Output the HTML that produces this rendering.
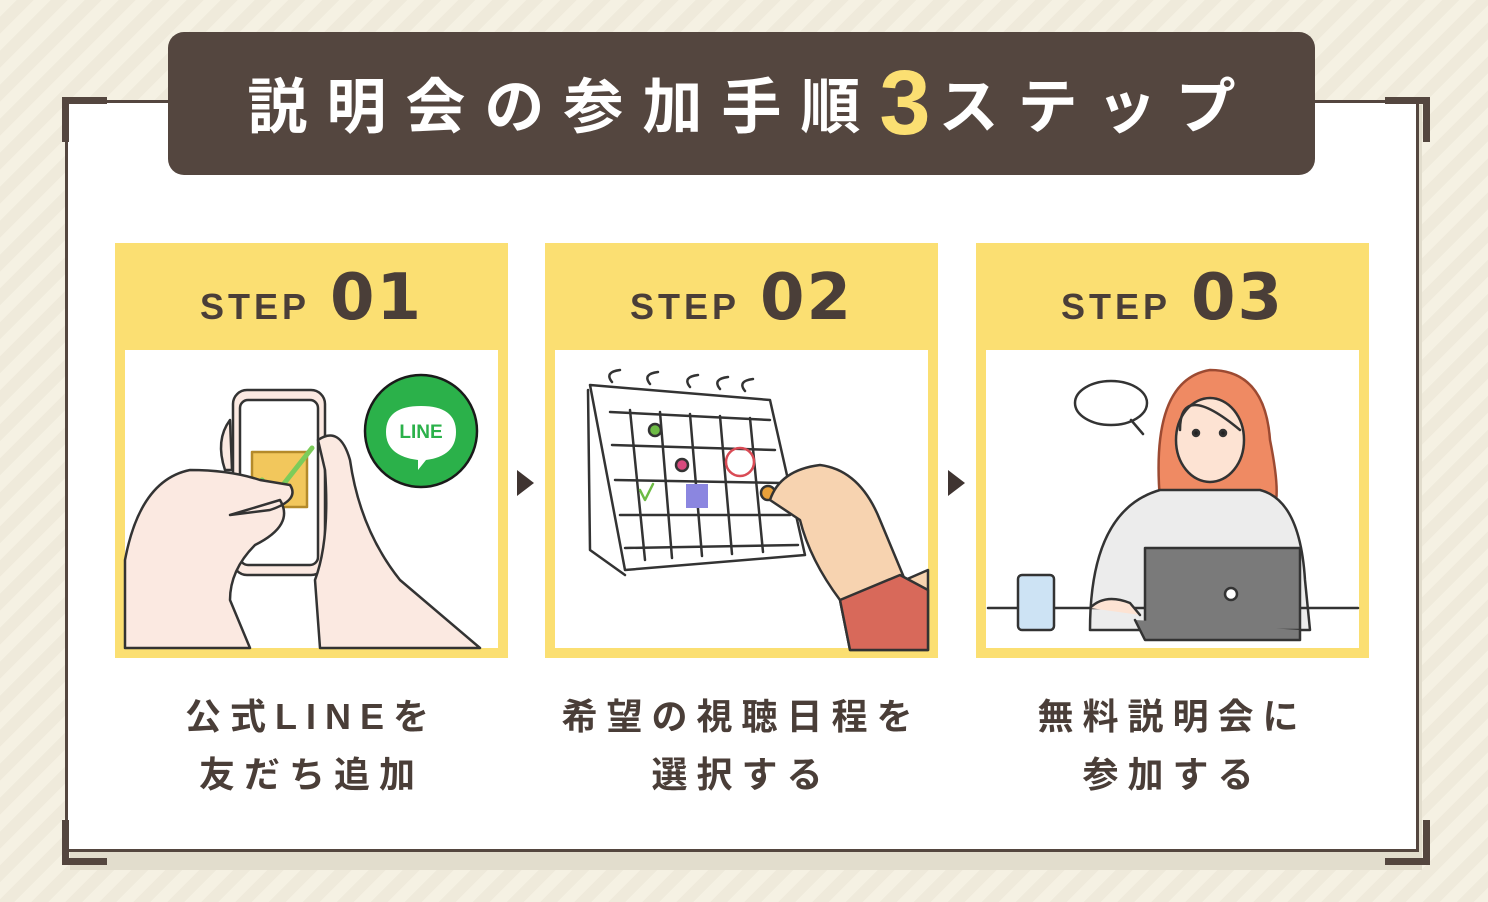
<!DOCTYPE html>
<html><head><meta charset="utf-8"><style>
html,body{margin:0;padding:0;}
body{width:1488px;height:902px;position:relative;overflow:hidden;
background:repeating-linear-gradient(135deg,#f5f1e3 0 12px,#efeadb 12px 24px);
font-family:"Liberation Sans","Noto Sans CJK JP",sans-serif;}
.abs{position:absolute;}
.shadow{left:70px;top:105px;width:1352px;height:765px;background:#e2ddcd;}
.frame{left:65px;top:100px;width:1354px;height:752px;background:#fff;border:3px solid #54463f;box-sizing:border-box;}
.c{position:absolute;width:38px;height:38px;border-color:#54463f;border-style:solid;border-width:0;}
.title{left:168px;top:32px;width:1147px;height:143px;background:#54463f;border-radius:16px;color:#fff;
font-weight:bold;font-size:60px;letter-spacing:19px;text-align:center;line-height:143px;white-space:nowrap;text-indent:19px;}
.title b{color:#fbdf72;font-size:92px;letter-spacing:8px;vertical-align:-6px;}
.card{width:393px;height:415px;top:243px;background:#fbdf72;box-sizing:border-box;}
.card .h{height:107px;text-align:center;color:#4a3e38;font-weight:bold;line-height:110px;white-space:nowrap;}
.card .h span{font-size:36px;letter-spacing:4px;}
.card .h b{font-size:64px;font-family:"DejaVu Sans","Liberation Sans",sans-serif;font-weight:900;margin-left:20px;letter-spacing:2px;}
.card .in{position:absolute;left:10px;top:107px;right:10px;bottom:10px;background:#fff;}
.cap{top:688px;width:393px;text-align:center;color:#4a3e38;font-weight:bold;font-size:36px;letter-spacing:9px;line-height:58px;}
.arr{width:0;height:0;border-left:17px solid #3f3431;border-top:13px solid transparent;border-bottom:13px solid transparent;top:470px;}
</style></head><body>
<div class="abs shadow"></div>
<div class="abs frame"></div>
<div class="c" style="left:62px;top:97px;border-left-width:7px;border-top-width:7px"></div>
<div class="c" style="left:1385px;top:97px;border-right-width:7px;border-top-width:7px"></div>
<div class="c" style="left:62px;top:820px;border-left-width:7px;border-bottom-width:7px"></div>
<div class="c" style="left:1385px;top:820px;border-right-width:7px;border-bottom-width:7px"></div>
<div class="abs title">説明会の参加手順<b>3</b>ステップ</div>

<div class="abs card" style="left:115px"><div class="h"><span>STEP</span><b>01</b></div><div class="in"></div></div>
<div class="abs card" style="left:545px"><div class="h"><span>STEP</span><b>02</b></div><div class="in"></div></div>
<div class="abs card" style="left:976px"><div class="h"><span>STEP</span><b>03</b></div><div class="in"></div></div>
<div class="abs arr" style="left:517px"></div>
<div class="abs arr" style="left:948px"></div>

<svg class="abs" style="left:0;top:0" width="1488" height="902" fill="none" stroke="#333" stroke-width="2.5" stroke-linejoin="round" stroke-linecap="round">
<!-- step1 -->
<path d="M230 420 Q215 440 225 470 L232 470 Z" fill="#fbe9e1"/>
<rect x="233" y="390" width="92" height="185" rx="14" fill="#fbe9e1"/>
<rect x="240" y="400" width="78" height="165" rx="8" fill="#fff"/>
<rect x="252" y="452" width="55" height="55" fill="#f2c75c" stroke="#b48a2a"/>
<path d="M262 480 L275 495 L312 448" stroke="#7ccc5a" stroke-width="5"/>
<path d="M318 440 Q340 425 350 460 Q360 530 400 580 L480 648 L320 648 L315 580 Q330 540 325 470 Z" fill="#fbe9e1"/>
<path d="M125 560 Q140 480 190 470 Q230 470 260 480 L290 485 Q300 500 270 510 L230 515 L280 500 Q295 525 255 545 Q230 570 230 600 L250 648 L125 648 Z" fill="#fbe9e1"/>
<circle cx="421" cy="431" r="56" fill="#2bb14a" stroke="#1a1a1a"/>
<path d="M386 432 q0-26 35-26 q35 0 35 26 q0 24-30 28 l-8 10 l0-10 q-32-4-32-28z" fill="#fff" stroke="none"/>
<text x="421" y="438" font-size="19" font-weight="bold" fill="#2bb14a" stroke="none" text-anchor="middle" font-family="Liberation Sans">LINE</text>
<!-- step2 -->
<path d="M590 385 L770 400 L805 555 L625 570 Z" fill="#fff"/>
<path d="M588 390 L590 550 L625 575" />
<path d="M610 412 L770 420 M612 445 L775 450 M615 480 L782 483 M620 515 L790 515 M625 548 L798 545"/>
<path d="M630 410 L645 560 M660 412 L672 558 M690 414 L702 556 M720 416 L732 554 M750 418 L763 552"/>
<path d="M612 382 q-8-10 8-12 M650 384 q-8-10 8-12 M690 387 q-8-10 8-12 M720 389 q-8-10 8-12 M745 391 q-8-10 8-12"/>
<circle cx="655" cy="430" r="6" fill="#6dbb45"/><circle cx="682" cy="465" r="6" fill="#d84a7e"/>
<rect x="686" y="484" width="22" height="24" fill="#8b86e0" stroke="none"/>
<circle cx="740" cy="462" r="14" stroke="#d94b55"/><circle cx="768" cy="493" r="7" fill="#e8a03a"/>
<path d="M640 490 l5 10 l8-16" stroke="#6dbb45"/>
<path d="M850 650 L840 600 Q810 560 800 520 L770 500 Q780 470 820 465 Q860 470 880 520 L905 580 L928 570 L928 650Z" fill="#f7d3b0"/>
<path d="M850 650 L840 600 L900 575 L928 590 L928 650Z" fill="#d8695a"/>
<!-- step3 -->
<ellipse cx="1111" cy="403" rx="36" ry="22" fill="#fff"/>
<path d="M1131 420 l12 14"/>
<path d="M1160 500 Q1150 380 1210 370 Q1265 370 1270 440 Q1280 490 1275 505 Z" fill="#ef8a63" stroke="#9c4a32"/>
<ellipse cx="1210" cy="440" rx="34" ry="42" fill="#fde3d3"/>
<circle cx="1196" cy="433" r="3" fill="#222"/><circle cx="1223" cy="433" r="3" fill="#222"/>
<path d="M1180 430 q0-50 60 0" />
<path d="M1090 630 Q1090 510 1160 490 L1260 490 Q1300 500 1305 580 L1310 630 Z" fill="#ececec"/>
<path d="M988 608 L1358 608" />
<rect x="1018" y="575" width="36" height="55" rx="4" fill="#cde3f4"/>
<path d="M1145 548 L1300 548 L1300 630 L1145 630 Z" fill="#7a7a7a"/>
<path d="M1135 620 L1145 640 L1300 640 L1300 630" fill="#7a7a7a"/>
<circle cx="1231" cy="594" r="6" fill="#fff"/>
<path d="M1090 608 q15-15 40-5 l10 12" fill="#fde3d3"/>
</svg>

<div class="abs cap" style="left:115px">公式LINEを<br>友だち追加</div>
<div class="abs cap" style="left:545px">希望の視聴日程を<br>選択する</div>
<div class="abs cap" style="left:976px">無料説明会に<br>参加する</div>
</body></html>
